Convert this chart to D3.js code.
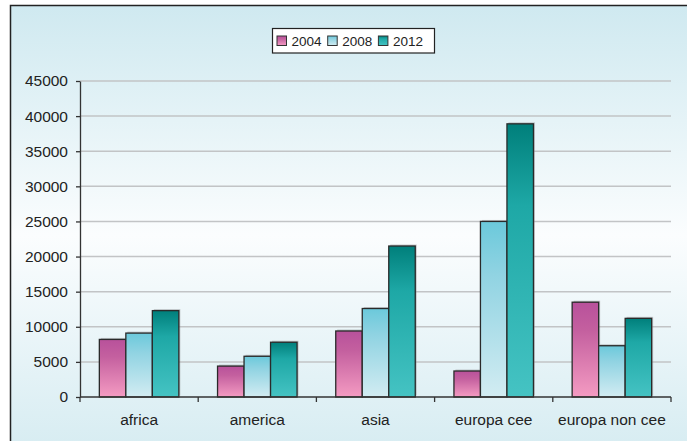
<!DOCTYPE html>
<html>
<head>
<meta charset="utf-8">
<script src="https://cdn.jsdelivr.net/npm/d3@7/dist/d3.min.js"></script>
<style>
  body { margin: 0; background: #fff; }
  svg { display: block; font-family: "Liberation Sans", Arial, sans-serif; }
</style>
</head>
<body>
<svg id="chart" width="687" height="441"></svg>
<script>
// data
const categories = ["africa", "america", "asia", "europa cee", "europa non cee"];
const years = ["2004", "2008", "2012"];
const values2004 = [8200, 4400, 9400, 3700, 13500];
const values2008 = [9100, 5800, 12600, 25000, 7300];
const values2012 = [12300, 7800, 21500, 38900, 11200];
const yTicks = [0, 5000, 10000, 15000, 20000, 25000, 30000, 35000, 40000, 45000];

const series = [values2004, values2008, values2012];

const svg = d3.select("#chart");
const defs = svg.append("defs");

// background gradient of the frame
let bg = defs.append("linearGradient").attr("id", "bg")
    .attr("x1", 0).attr("y1", 0).attr("x2", 0).attr("y2", 1);
bg.append("stop").attr("offset", "0%").attr("stop-color", "#cfe9f0");
bg.append("stop").attr("offset", "50%").attr("stop-color", "#fbfdfe");
bg.append("stop").attr("offset", "100%").attr("stop-color", "#d4ebf1");

// bar fills, one gradient per year
const fills = [
    ["#b8519b", "#c4609f", "#f49bc2"],
    ["#6bc9db", "#90d3e2", "#d2ecf2"],
    ["#007f7b", "#1ea8a6", "#45c3c3"]
];
fills.forEach(function(f, i) {
    let g = defs.append("linearGradient").attr("id", "fill" + i)
	.attr("x1", 0).attr("y1", 0).attr("x2", 0).attr("y2", 1);
    g.append("stop").attr("offset", "0%").attr("stop-color", f[0]);
    g.append("stop").attr("offset", "30%").attr("stop-color", f[1]);
    g.append("stop").attr("offset", "100%").attr("stop-color", f[2]);
});

// frame
svg.append("rect")
    .attr("x", 10.5).attr("y", 5.5)
    .attr("width", 700).attr("height", 460)
    .attr("fill", "url(#bg)")
    .attr("stroke", "#222")
    .attr("stroke-width", 1.5);

let margin = { left: 80, right: 671, top: 81, bottom: 397 };

let x0 = d3.scaleBand()
    .domain(categories)
    .range([margin.left, margin.right]);

let x1 = d3.scaleBand()
    .domain(years)
    .range([0, x0.bandwidth()])
    .paddingOuter(0.73);

let y = d3.scaleLinear()
    .domain([0, 45000])
    .range([margin.bottom, margin.top]);

// gridlines
svg.append("g")
    .selectAll("line")
    .data(yTicks.filter(d => d > 0))
    .enter().append("line")
    .attr("x1", margin.left).attr("x2", margin.right)
    .attr("y1", d => y(d)).attr("y2", d => y(d))
    .attr("stroke", "#c2c4c6")
    .attr("stroke-width", 1.5);

// bars
let groups = svg.append("g")
    .selectAll("g")
    .data(categories)
    .enter().append("g")
    .attr("transform", d => "translate(" + x0(d) + ",0)");

groups.selectAll("rect.shadow")
    .data((c, ci) => years.map((yr, si) => ({ yr: yr, si: si, v: series[si][ci] })))
    .enter().append("rect")
    .attr("class", "shadow")
    .attr("x", d => x1(d.yr) + 1.5)
    .attr("y", d => y(d.v) - 1.5)
    .attr("width", x1.bandwidth())
    .attr("height", d => y(0) - y(d.v))
    .attr("fill", "#8a8c8e")
    .attr("opacity", 0.45);

groups.selectAll("rect.bar")
    .data((c, ci) => years.map((yr, si) => ({ yr: yr, si: si, v: series[si][ci] })))
    .enter().append("rect")
    .attr("class", "bar")
    .attr("x", d => x1(d.yr))
    .attr("y", d => y(d.v))
    .attr("width", x1.bandwidth())
    .attr("height", d => y(0) - y(d.v))
    .attr("fill", d => "url(#fill" + d.si + ")")
    .attr("stroke", "#2a2a2a")
    .attr("stroke-width", 1.3);

// y axis
let yAxis = svg.append("g")
    .attr("transform", "translate(" + margin.left + ",0)")
    .call(d3.axisLeft(y).tickValues(yTicks).tickFormat(d3.format("d"))
	  .tickSize(4).tickPadding(8).tickSizeOuter(0));
yAxis.attr("font-family", null).attr("font-size", null);
yAxis.select(".domain").attr("stroke", "#333").attr("stroke-width", 1.3);
yAxis.selectAll(".tick line").attr("stroke", "#333").attr("stroke-width", 1.3);
yAxis.selectAll(".tick text")
    .attr("font-size", 15.5)
    .attr("fill", "#222");

// x axis: line, ticks at category boundaries, labels centred
let xAxis = svg.append("g");
xAxis.append("line")
    .attr("x1", margin.left).attr("x2", margin.right)
    .attr("y1", margin.bottom).attr("y2", margin.bottom)
    .attr("stroke", "#333").attr("stroke-width", 1.3);

let bounds = categories.map(c => x0(c)).concat([x0.range()[1]]);
xAxis.selectAll("line.tick")
    .data(bounds)
    .enter().append("line")
    .attr("class", "tick")
    .attr("x1", d => d).attr("x2", d => d)
    .attr("y1", margin.bottom).attr("y2", margin.bottom + 5)
    .attr("stroke", "#333").attr("stroke-width", 1.3);

xAxis.selectAll("text")
    .data(categories)
    .enter().append("text")
    .attr("x", d => x0(d) + x0.bandwidth() / 2)
    .attr("y", 425)
    .attr("text-anchor", "middle")
    .attr("font-size", 15.5)
    .attr("fill", "#222")
    .text(d => d);

// legend
let legend = svg.append("g")
    .attr("transform", "translate(272.5,28.5)");
legend.append("rect")
    .attr("width", 162).attr("height", 24.5)
    .attr("fill", "#fff")
    .attr("stroke", "#222")
    .attr("stroke-width", 1.2);

let items = legend.selectAll("g.item")
    .data(years)
    .enter().append("g")
    .attr("class", "item")
    .attr("transform", (d, i) => "translate(" + (4.5 + i * 50.7) + ",0)");
items.append("rect")
    .attr("y", 7.5)
    .attr("width", 9.5).attr("height", 9.5)
    .attr("fill", (d, i) => "url(#fill" + i + ")")
    .attr("stroke", "#333")
    .attr("stroke-width", 1);
items.append("text")
    .attr("x", 14.5)
    .attr("y", 17.5)
    .attr("font-size", 13.5)
    .attr("fill", "#222")
    .text(d => d);
</script>
</body>
</html>
